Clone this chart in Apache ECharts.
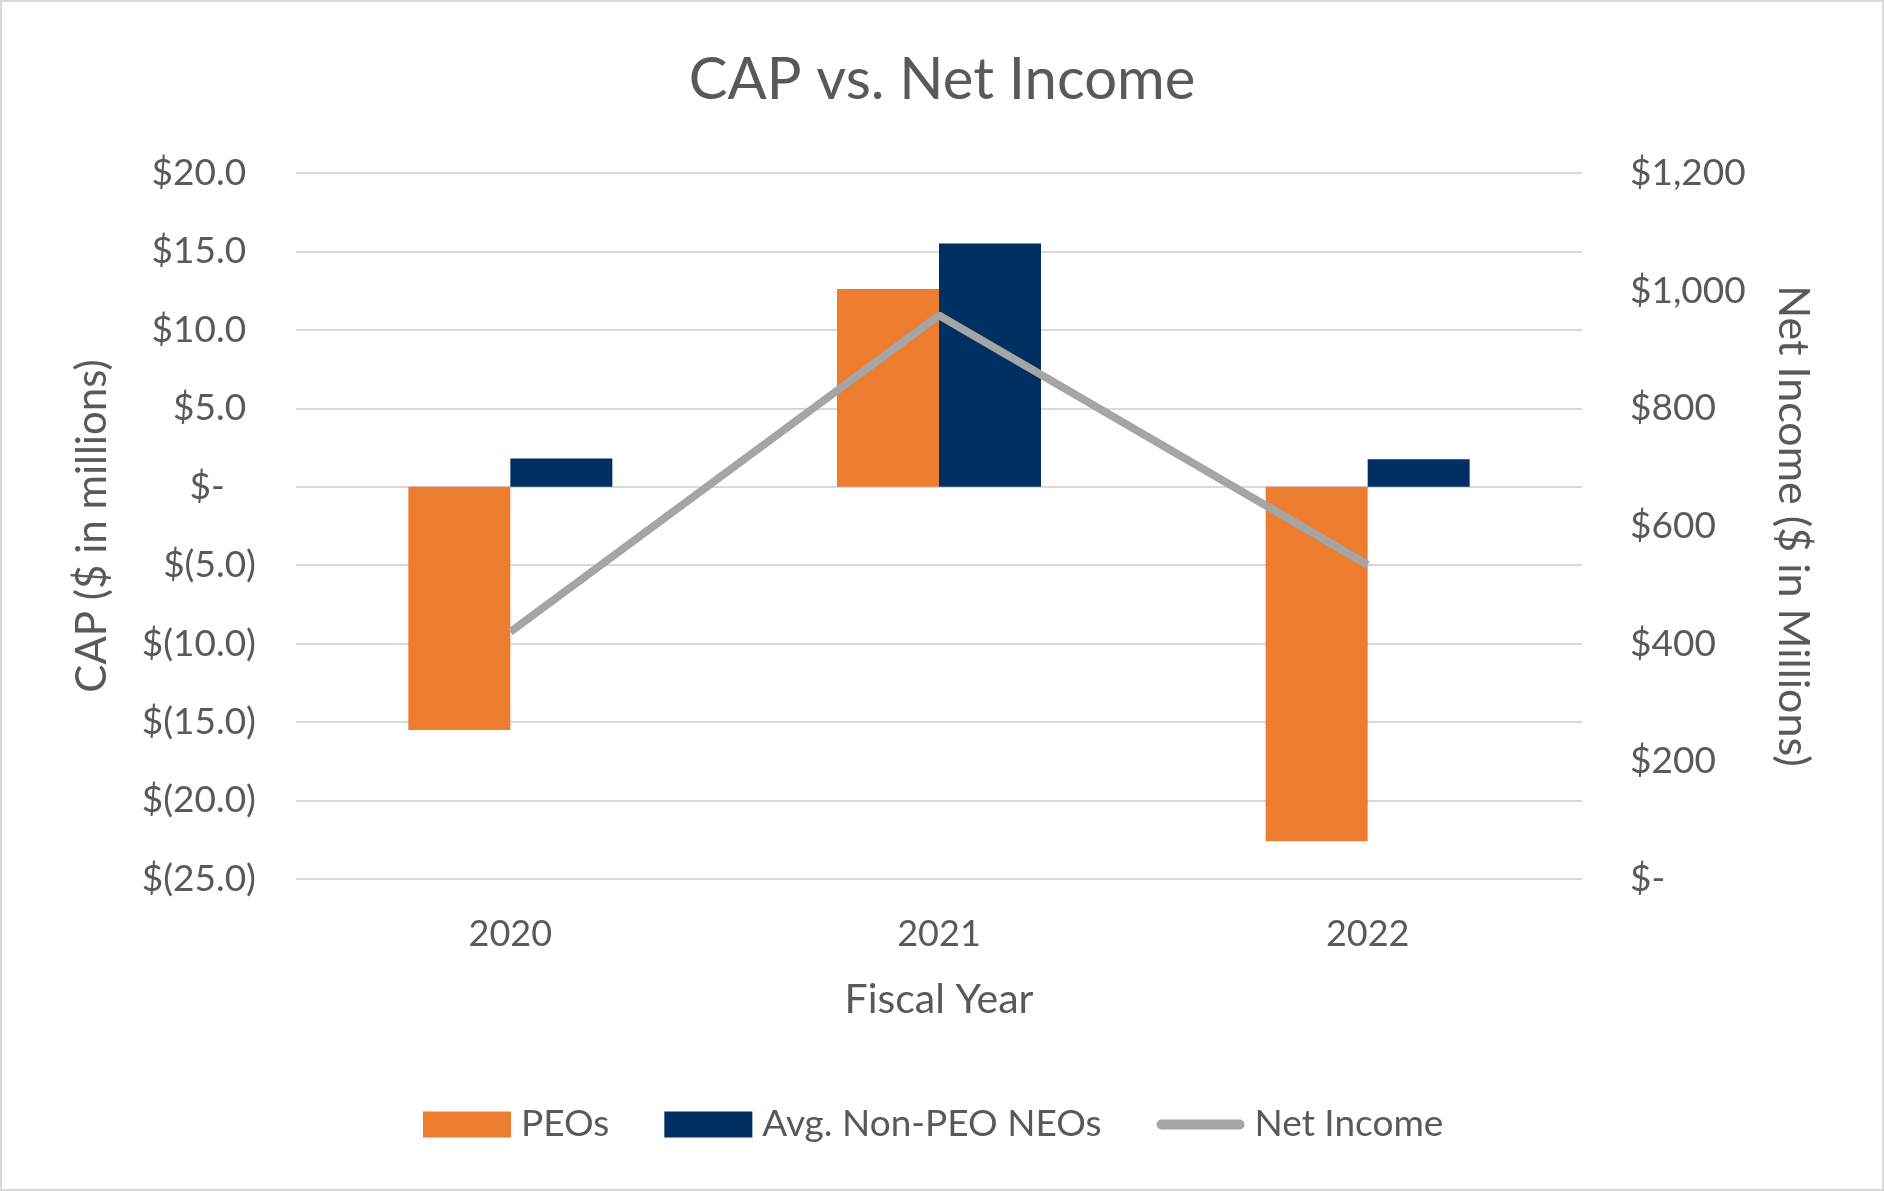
<!DOCTYPE html>
<html>
<head>
<meta charset="utf-8">
<script src="https://cdn.jsdelivr.net/npm/echarts@6/dist/echarts.min.js"></script>
<style>
html,body{margin:0;padding:0;background:#fff;}
#chart{width:1884px;height:1191px;box-sizing:border-box;border:2px solid #d9d9d9;}
</style>
</head>
<body>
<div id="chart"></div>
<script>
const categories = ['2020', '2021', '2022'];
const peos = [-15.5, 12.6, -22.6];
const nonPeoNeos = [1.8, 15.5, 1.75];
const netIncome = [420, 958, 534];
const leftTicks = { min: -25, max: 20, interval: 5 };
const rightTicks = { min: 0, max: 1200, interval: 200 };

const FONT = 'Lato';
const TXT = '#595959';

function leftFmt(v) {
  if (v === 0) return '$-{h|0)}';
  if (v < 0) return '$(' + Math.abs(v).toFixed(1) + ')';
  return '$' + v.toFixed(1) + '{h|)}';
}
function rightFmt(v) {
  if (v === 0) return '$-';
  return '$' + v.toLocaleString('en-US');
}

const lineIcon = 'path://M0,0 M88,26 M5,8 L83,8 A5,5 0 0 1 83,18 L5,18 A5,5 0 0 1 5,8 Z';

const chart = echarts.init(document.getElementById('chart'), null, { renderer: 'canvas' });
chart.setOption({
  animation: false,
  backgroundColor: '#ffffff',
  textStyle: { fontFamily: FONT, color: TXT },
  title: {
    text: 'CAP vs. Net Income',
    left: 'center',
    top: 44,
    textStyle: { fontFamily: FONT, fontSize: 58, fontWeight: 'normal', color: TXT }
  },
  legend: {
    left: 421,
    top: 1104,
    padding: 0,
    itemWidth: 88,
    itemHeight: 26,
    itemGap: 55,
    textStyle: { fontFamily: FONT, fontSize: 37, color: TXT, padding: [0, 0, 0, 5] },
    data: [
      { name: 'PEOs', icon: 'rect' },
      { name: 'Avg. Non-PEO NEOs', icon: 'rect' },
      { name: 'Net Income', icon: lineIcon, itemStyle: { color: '#A5A5A5' } }
    ]
  },
  grid: { left: 294, right: 300, top: 171, bottom: 310, containLabel: false },
  xAxis: {
    type: 'category',
    data: categories,
    name: 'Fiscal Year',
    nameLocation: 'middle',
    nameGap: 100,
    nameTextStyle: { fontFamily: FONT, fontSize: 41, color: TXT },
    axisLine: { show: false },
    axisTick: { show: false },
    axisLabel: { fontFamily: FONT, fontSize: 36, color: TXT, margin: 37 }
  },
  yAxis: [
    {
      type: 'value',
      min: leftTicks.min, max: leftTicks.max, interval: leftTicks.interval,
      name: 'CAP ($ in millions)',
      nameLocation: 'middle',
      nameGap: 183,
      nameRotate: 90,
      nameTextStyle: { fontFamily: FONT, fontSize: 42, color: TXT },
      axisLine: { show: false },
      axisTick: { show: false },
      splitLine: { lineStyle: { color: '#d9d9d9', width: 2 } },
      axisLabel: {
        fontFamily: FONT, fontSize: 37, color: TXT, margin: 40,
        formatter: leftFmt,
        rich: { h: { fontFamily: FONT, fontSize: 37, color: 'rgba(0,0,0,0)' } }
      }
    },
    {
      type: 'value',
      min: rightTicks.min, max: rightTicks.max, interval: rightTicks.interval,
      name: 'Net Income ($ in Millions)',
      nameLocation: 'middle',
      nameGap: 189,
      nameRotate: -90,
      nameTextStyle: { fontFamily: FONT, fontSize: 43, color: TXT },
      axisLine: { show: false },
      axisTick: { show: false },
      splitLine: { show: false },
      axisLabel: { fontFamily: FONT, fontSize: 37, color: TXT, margin: 48, formatter: rightFmt }
    }
  ],
  series: [
    {
      name: 'PEOs', type: 'bar', data: peos, yAxisIndex: 0,
      barWidth: 102, barGap: '0%',
      itemStyle: { color: '#ED7D31' }
    },
    {
      name: 'Avg. Non-PEO NEOs', type: 'bar', data: nonPeoNeos, yAxisIndex: 0,
      barWidth: 102, barGap: '0%',
      itemStyle: { color: '#002F62' }
    },
    {
      name: 'Net Income', type: 'line', data: netIncome, yAxisIndex: 1,
      symbol: 'none', showSymbol: false,
      lineStyle: { color: '#A5A5A5', width: 8 },
      itemStyle: { color: '#A5A5A5' }
    }
  ]
});
</script>
</body>
</html>
